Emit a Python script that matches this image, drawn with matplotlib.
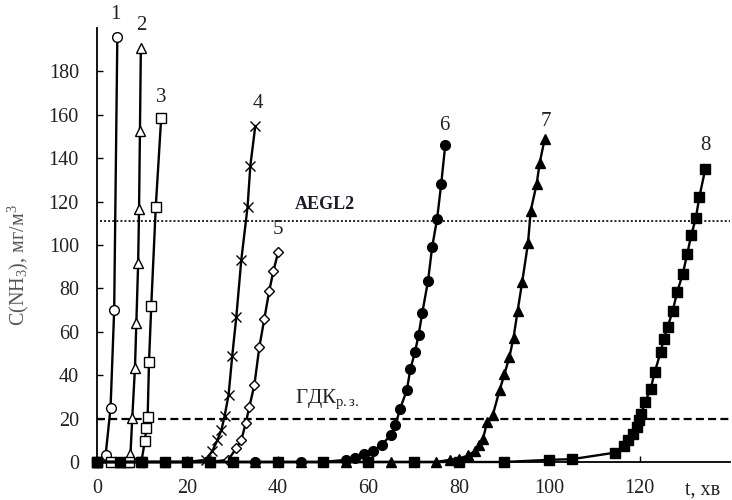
import numpy as np
import matplotlib.pyplot as plt

plt.rcParams['font.family'] = ['Liberation Serif', 'DejaVu Serif']
plt.rcParams['mathtext.fontset'] = 'custom'
plt.rcParams['mathtext.rm'] = 'Liberation Serif'
plt.rcParams['mathtext.it'] = 'Liberation Serif:italic'
plt.rcParams['mathtext.bf'] = 'Liberation Serif:bold'

# curves 1..8: time (min) and NH3 concentration (mg/m3)
t1 = [0, 1.9, 3.0, 3.8, 4.5]
c1 = [0, 3, 25, 70, 196]

t2 = [0, 5, 6.9, 7.4, 7.8, 8.4, 8.7, 9.1, 9.3, 9.5, 9.7]
c2 = [0, 0, 0, 3.6, 20.4, 43.5, 64, 91.5, 116.6, 152.7, 191]

t3 = [0, 3, 7, 9.8, 10.6, 10.9, 11.2, 11.5, 12.0, 13.0, 14.2]
c3 = [0, 0, 0, 0, 9.8, 15.5, 20.6, 46, 72, 117.7, 158.7]

t4 = [0, 5, 10, 15, 20, 24, 25.5, 26.6, 27.5, 28.2, 29.1, 29.9, 30.8, 31.9, 33.3, 33.9, 35]
c4 = [0, 0, 0, 0, 0, 1, 5, 10, 14.7, 21, 31, 48.8, 66.7, 93, 117.7, 136.4, 154.8]

t5 = [0, 5, 10, 15, 20, 25, 29, 30.8, 31.9, 32.9, 33.7, 34.8, 35.9, 37, 38.1, 39, 40.1]
c5 = [0, 0, 0, 0, 0, 0, 1, 6.3, 10, 18, 25.5, 35.5, 53, 66, 79, 88, 97]

t6 = [0, 5, 10, 15, 20, 25, 30, 35, 40, 45, 50, 55, 57, 59, 61, 63, 65, 66, 67,
      68.5, 69.3, 70.3, 71.1, 71.9, 73.2, 74.1, 75.2, 76.1, 77]
c6 = [0, 0, 0, 0, 0, 0, 0, 0, 0, 0, 0, 1, 2, 3.5, 5, 8, 12.5, 17, 24.5,
      33, 43, 50.5, 58.5, 68.5, 83.5, 99, 112, 128, 146]

t7 = [0, 5, 15, 25, 35, 45, 55, 65, 75, 78, 80, 82, 83.5, 84.5, 85.3, 86.3, 87.5,
      89, 90.1, 91.2, 92.1, 93, 94, 95.3, 95.9, 97.2, 97.9, 99]
c7 = [0, 0, 0, 0, 0, 0, 0, 0, 0, 1, 1.5, 3, 5, 8, 10.5, 18.5, 21.5,
      33, 40.5, 48.5, 57.3, 69.6, 82.8, 100.8, 115.8, 128, 138, 149]

t8 = [0, 5, 10, 15, 20, 25, 30, 40, 50, 60, 70, 80, 90, 100, 105, 114.5, 116.5, 117.5,
      118.5, 119.3, 119.8, 120.3, 121.2, 122.4, 123.3, 124.6, 125.3, 126.2, 127.3,
      128.3, 129.5, 130.5, 131.4, 132.4, 133.2, 134.5]
c8 = [0, 0, 0, 0, 0, 0, 0, 0, 0, 0, 0, 0, 0, 1, 1.3, 4.3, 7.5, 10,
      13, 16, 19.5, 22, 27.8, 33.5, 41.3, 50.5, 56.5, 62.4, 69.7,
      78.5, 86.5, 95.9, 104.6, 112.3, 122.3, 135]

aegl2 = 111
gdk = 20

x_ticks = [0, 20, 40, 60, 80, 100, 120]
y_ticks = [0, 20, 40, 60, 80, 100, 120, 140, 160, 180]

fig = plt.figure(figsize=(7.32, 5), dpi=100)
ax = fig.add_axes([0.1325, 0.076, 0.865, 0.868])

# horizontal limits
ax.axhline(aegl2, xmin=0.005, color='#222222', lw=1.4, ls=(0, (1, 1.1)), zorder=1)
ax.axhline(gdk, color='black', lw=1.6, ls=(0, (3.6, 1.9)), zorder=1)

curves = [
    (t1, c1, 'o', 'white', 7),
    (t2, c2, '^', 'white', 7.5),
    (t3, c3, 's', 'white', 7),
    (t4, c4, 'x', 'black', 7),
    (t5, c5, 'D', 'white', 4.8),
    (t6, c6, 'o', 'black', 7),
    (t7, c7, '^', 'black', 7.5),
    (t8, c8, 's', 'black', 7),
]
for i, (t, c, m, fc, ms) in enumerate(curves):
    ax.plot(t, c, color='black', lw=1.7, marker=m, mfc=fc, mec='black',
            ms=ms, mew=1.0, clip_on=False, zorder=2 + i)

# curve numbers
labels = ['1', '2', '3', '4', '5', '6', '7', '8']
lab_x = [4.0, 9.7, 14.3, 35.5, 40.0, 76.9, 99.3, 134.6]
lab_y = [206, 201, 168, 165, 107, 155, 157, 146]
for s, x, y in zip(labels, lab_x, lab_y):
    ax.text(x, y, s, ha='center', va='center', fontsize=15, color='#222222', clip_on=False)

ax.text(43.8, 118.5, 'AEGL2', fontsize=13, fontweight='bold', color='#1a1a2e',
        ha='left', va='center')
ax.text(43.8, 29.0, r'$\mathrm{ГДК}_{\mathrm{р.з.}}$', fontsize=15, color='#222222',
        ha='left', va='center')

ax.set_xlim(0, 140)
ax.set_ylim(0, 200)
ax.set_xticks(x_ticks)
ax.set_yticks(y_ticks)
ax.tick_params(axis='both', direction='in', length=4, width=1, labelsize=14.5,
               labelcolor='#222222')
ax.tick_params(axis='y', pad=13)
ax.tick_params(axis='x', pad=12)
ax.text(133.8, -13.0, 't, хв', fontsize=14.5, color='#222222', ha='center',
        va='center', clip_on=False)

ax.set_ylabel(r'C(NH$_3$), мг/м$^3$', fontsize=14.5, color='#555555')
ax.yaxis.set_label_coords(-0.105, 0.454)

for side in ['top', 'right']:
    ax.spines[side].set_visible(False)
for side in ['left', 'bottom']:
    ax.spines[side].set_linewidth(1.3)

fig.savefig('out.png', dpi=100)
